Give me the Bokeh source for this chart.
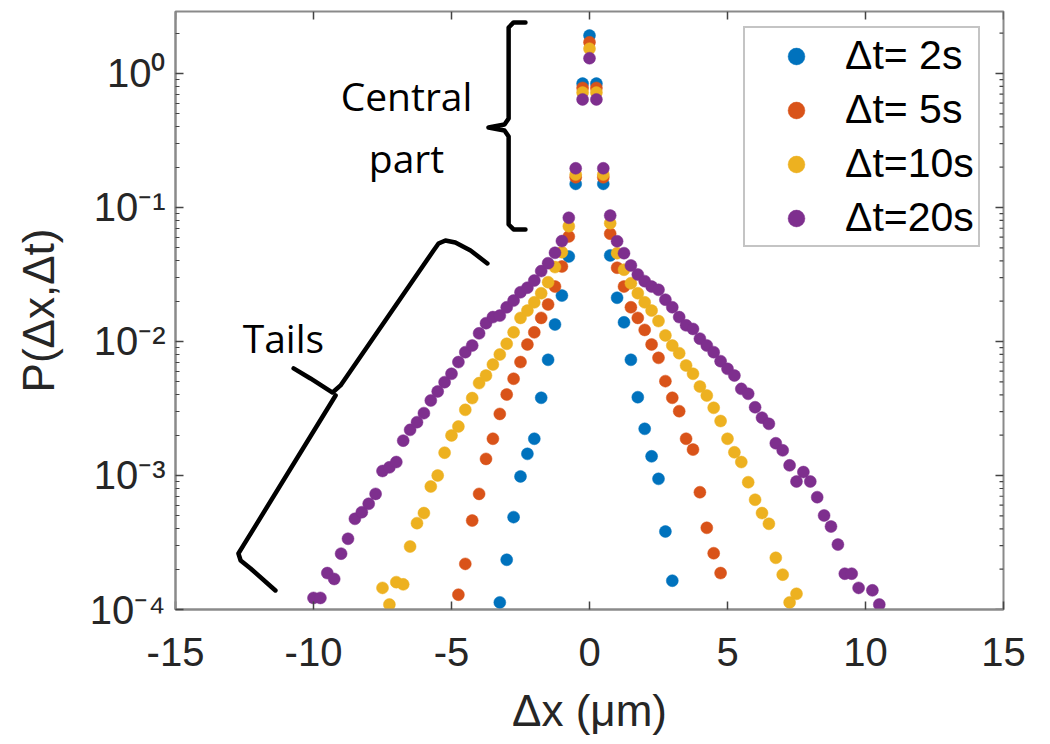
from bokeh.plotting import figure
from bokeh.models import (Range1d, Legend, LegendItem, FixedTicker, CustomJSTickFormatter)
from bokeh.core.properties import value
from bokeh.embed import file_html
from bokeh.resources import INLINE
import math

# ---------------- data ----------------
series_labels = ["\u0394t= 2s", "\u0394t= 5s", "\u0394t=10s", "\u0394t=20s"]
series_colors = ["#0072BD", "#D95319", "#EDB120", "#7E2F8E"]

x_2s = [-3.25, -3.0, -2.75, -2.5, -2.25, -2.0, -1.75, -1.5, -1.25, -1.0, -0.75,
        -0.5, -0.25, 0.0, 0.25, 0.5,
        0.75, 1.0, 1.25, 1.5, 1.75, 2.0, 2.25, 2.5, 2.75, 3.0]
p_2s = [0.000113, 0.000235, 0.000489, 0.000984, 0.00145, 0.00188, 0.0038, 0.0073, 0.0134, 0.022, 0.0431,
        0.150, 0.84, 1.92, 0.84, 0.150,
        0.0439, 0.0212, 0.0139, 0.0073, 0.00384, 0.00223, 0.00139, 0.000944, 0.000382, 0.000164]

x_5s = [-4.75, -4.5, -4.25, -4.0, -3.75, -3.5, -3.25, -3.0, -2.75, -2.5, -2.25, -2.0, -1.75, -1.5,
        -1.25, -1.0, -0.75,
        -0.5, -0.25, 0.0, 0.25, 0.5,
        0.75, 1.0, 1.25, 1.5, 1.75, 2.0, 2.25, 2.5, 2.75, 3.0, 3.25, 3.5, 3.75, 4.0, 4.25, 4.5, 4.75]
p_5s = [0.000129, 0.000219, 0.000461, 0.000729, 0.00133, 0.00188, 0.00288, 0.00402, 0.00527, 0.00702,
        0.0095, 0.0117, 0.015, 0.0189, 0.0257, 0.0363, 0.0608,
        0.168, 0.78, 1.71, 0.78, 0.168,
        0.0637, 0.0355, 0.0257, 0.018, 0.015, 0.0122, 0.0095, 0.00755, 0.00506, 0.0038, 0.00302,
        0.00188, 0.00156, 0.00075, 0.000407, 0.000263, 0.000187]

x_10s = [-7.5, -7.25, -7.0, -6.75, -6.5, -6.25, -6.0, -5.75, -5.5, -5.25, -5.0, -4.75, -4.5, -4.25,
         -4.0, -3.75, -3.5, -3.25, -3.0, -2.75, -2.5, -2.25, -2.0, -1.75, -1.5, -1.25, -1.0, -0.75,
         -0.5, -0.25, 0.0, 0.25, 0.5,
         0.75, 1.0, 1.25, 1.5, 1.75, 2.0, 2.25, 2.5, 2.75, 3.0, 3.25, 3.5, 3.75, 4.0, 4.25, 4.5,
         4.75, 5.0, 5.25, 5.5, 5.75, 6.0, 6.25, 6.5, 6.75, 7.0, 7.25, 7.5]
p_10s = [0.000145, 0.000109, 0.00016, 0.000154, 0.000295, 0.000441, 0.000524, 0.000828, 0.001,
         0.00148, 0.00199, 0.00232, 0.00309, 0.00378, 0.00489, 0.00557, 0.00673, 0.008, 0.00961,
         0.0117, 0.015, 0.017, 0.0196, 0.0229, 0.0277, 0.0359, 0.0464, 0.0725,
         0.176, 0.72, 1.53, 0.72, 0.176,
         0.0764, 0.0456, 0.0343, 0.0272, 0.0229, 0.0196, 0.017, 0.0142, 0.0111, 0.00933, 0.00818,
         0.00662, 0.00574, 0.00461, 0.00395, 0.0032, 0.00255, 0.00188, 0.00149, 0.00126, 0.000891,
         0.000659, 0.000524, 0.000436, 0.000243, 0.000182, 0.000113, 0.000131]

x_20s = [-10.0, -9.75, -9.5, -9.25, -9.0, -8.75, -8.5, -8.25, -8.0, -7.75, -7.5, -7.25, -7.0, -6.75,
         -6.5, -6.25, -6.0, -5.75, -5.5, -5.25, -5.0, -4.75, -4.5, -4.25, -4.0, -3.75, -3.5, -3.25,
         -3.0, -2.75, -2.5, -2.25, -2.0, -1.75, -1.5, -1.25, -1.0, -0.75,
         -0.5, -0.25, 0.0, 0.25, 0.5,
         0.75, 1.0, 1.25, 1.5, 1.75, 2.0, 2.25, 2.5, 2.75, 3.0, 3.25, 3.5, 3.75, 4.0, 4.25, 4.5,
         4.75, 5.0, 5.25, 5.5, 5.75, 6.0, 6.25, 6.5, 6.75, 7.0, 7.25, 7.5, 7.75, 8.0, 8.25, 8.5,
         8.75, 9.0, 9.25, 9.5, 9.75, 10.25, 10.5]
p_20s = [0.000122, 0.000122, 0.000187, 0.000169, 0.000261, 0.000337, 0.000475, 0.000532, 0.000615,
         0.000729, 0.00108, 0.00115, 0.00126, 0.00182, 0.00219, 0.0025, 0.00292, 0.00363, 0.00424,
         0.00497, 0.00574, 0.00702, 0.00832, 0.00933, 0.0115, 0.0137, 0.0152, 0.0156, 0.018, 0.0202,
         0.0233, 0.0252, 0.0285, 0.0335, 0.0384, 0.0459, 0.0561, 0.0838,
         0.196, 0.64, 1.30, 0.64, 0.196,
         0.087, 0.056, 0.0456, 0.0369, 0.0316, 0.0282, 0.0257, 0.0243, 0.0205, 0.018, 0.0152, 0.0132,
         0.0124, 0.0105, 0.00933, 0.00832, 0.00713, 0.00625, 0.00557, 0.00443, 0.00407, 0.00323,
         0.0027, 0.00243, 0.00174, 0.00154, 0.00119, 0.000902, 0.00106, 0.000902, 0.000689,
         0.000503, 0.000416, 0.000305, 0.000185, 0.000185, 0.000145, 0.000139, 0.000109]

x_ticks = [-15, -10, -5, 0, 5, 10, 15]
y_decades = [1e-4, 1e-3, 1e-2, 1e-1, 1e0]
x_label = "\u0394x (\u03bcm)"
y_label = "P(\u0394x,\u0394t)"

# annotation geometry (x in um, y as log10 P)
central_brace = ([-2.32, -2.75, -2.93, -2.93, -3.08, -3.66, -3.08, -2.93, -2.93, -2.75, -2.32],
                 [0.381, 0.381, 0.343, -0.336, -0.381, -0.403, -0.425, -0.470, -1.127, -1.164, -1.164])
tails_upper = ([-3.70, -4.31, -4.86, -5.22, -5.47, -5.65, -9.02, -9.31, -10.11, -10.72],
               [-1.418, -1.321, -1.261, -1.246, -1.269, -1.321, -2.328, -2.381, -2.276, -2.201])
tails_lower = ([-9.20, -12.54, -12.72, -12.64, -12.28, -11.38],
               [-2.403, -3.522, -3.582, -3.634, -3.694, -3.858])

# ---------------- figure ----------------
X0, X1 = -15, 15
Y0, Y1 = 1e-4, 2.9
W, H = 1040, 740
BL, BT = 175, 11
BR, BB = W - 1003, H - 609
FW, FH = W - BL - BR, H - BT - BB

p = figure(width=W, height=H, x_range=Range1d(X0, X1), y_range=Range1d(Y0, Y1),
           y_axis_type="log", output_backend="svg", toolbar_location=None,
           min_border_left=BL, min_border_right=BR, min_border_top=BT, min_border_bottom=BB,
           background_fill_color="white", border_fill_color="white")
p.grid.visible = False
p.outline_line_color = "#8a8a8a"
p.outline_line_width = 2

AX_COL = "#8a8a8a"
TICK_COL = "#444444"
TXT_COL = "#262626"
FONT = "Liberation Sans"

minor = []
for d in y_decades:
    for m in range(2, 10):
        if d * m <= Y1:
            minor.append(d * m)
yticker = FixedTicker(ticks=y_decades, minor_ticks=minor)
xticker = FixedTicker(ticks=x_ticks, minor_ticks=[])

yfmt = CustomJSTickFormatter(code="""
const e = Math.round(Math.log10(tick));
const sup = {"-":"\u207b","0":"\u2070","1":"\u00b9","2":"\u00b2","3":"\u00b3","4":"\u2074"};
return "10" + String(e).split("").map(c => sup[c]).join("");
""")
xfmt = CustomJSTickFormatter(code="return String(Math.round(tick));")

for ax in (p.xaxis[0], p.yaxis[0]):
    ax.axis_line_color = AX_COL
    ax.axis_line_width = 2
    ax.major_tick_in = 8
    ax.major_tick_out = 0
    ax.minor_tick_in = 4
    ax.minor_tick_out = 0
    ax.major_tick_line_color = TICK_COL
    ax.minor_tick_line_color = TICK_COL
    ax.major_tick_line_width = 1.5
    ax.minor_tick_line_width = 1.2
    ax.major_label_text_font = FONT
    ax.major_label_text_font_size = "40px"
    ax.major_label_text_color = TXT_COL
    ax.axis_label_text_font = FONT
    ax.axis_label_text_font_style = "normal"
    ax.axis_label_text_color = TXT_COL

xa = p.xaxis[0]
ya = p.yaxis[0]
xa.ticker = xticker
xa.formatter = xfmt
ya.ticker = yticker
ya.formatter = yfmt
xa.axis_label = x_label
ya.axis_label = y_label
xa.axis_label_text_font_size = "44px"
ya.axis_label_text_font_size = "44px"
xa.major_label_standoff = 28
xa.axis_label_standoff = 17
ya.major_label_standoff = 10
ya.axis_label_standoff = 24

# mirrored ticks on the top and right edges of the box
px_per_x = FW / (X1 - X0)
px_per_dec = FH / (math.log10(Y1) - math.log10(Y0))
dx_major = 8 / px_per_x
dx_minor = 4 / px_per_x
fy_major = 10 ** (8 / px_per_dec)
p.segment(x0=x_ticks, y0=[Y1] * len(x_ticks), x1=x_ticks, y1=[Y1 / fy_major] * len(x_ticks),
          line_color=TICK_COL, line_width=1.5)
p.segment(x0=[X1] * len(y_decades), y0=y_decades, x1=[X1 - dx_major] * len(y_decades), y1=y_decades,
          line_color=TICK_COL, line_width=1.5)
p.segment(x0=[X1] * len(minor), y0=minor, x1=[X1 - dx_minor] * len(minor), y1=minor,
          line_color=TICK_COL, line_width=1.2)

# ---------------- data markers ----------------
renderers = []
for xs, ps, col in [(x_2s, p_2s, series_colors[0]), (x_5s, p_5s, series_colors[1]),
                    (x_10s, p_10s, series_colors[2]), (x_20s, p_20s, series_colors[3])]:
    r = p.scatter(xs, ps, size=12, marker="circle", fill_color=col, line_color=col, line_width=0.5)
    renderers.append(r)

legend = Legend(items=[LegendItem(label=lab, renderers=[r]) for lab, r in zip(series_labels, renderers)],
                location=(568, 362), orientation="vertical",
                label_text_font=FONT, label_text_font_size="41px", label_text_color="black",
                glyph_width=94, glyph_height=42, label_height=42, label_standoff=2,
                spacing=7, padding=4,
                border_line_color="#8a8a8a", border_line_width=2,
                background_fill_color="white", background_fill_alpha=1.0)
p.add_layout(legend)

# ---------------- annotations ----------------
for bx, by in [central_brace, tails_upper, tails_lower]:
    p.line(bx, [10 ** v for v in by], line_color="black", line_width=4.5,
           line_join="round", line_cap="round")

for tx, ty, tt in [(-6.63, 0.685, "Central"), (-6.63, 0.236, "part"), (-11.09, 0.0107, "Tails")]:
    p.text(x=[tx], y=[ty], text=[tt], text_font=value("Open Sans"), text_font_size="39px",
           text_align="center", text_baseline="middle", text_color="black")

open("out.html", "w").write(file_html(p, INLINE))
